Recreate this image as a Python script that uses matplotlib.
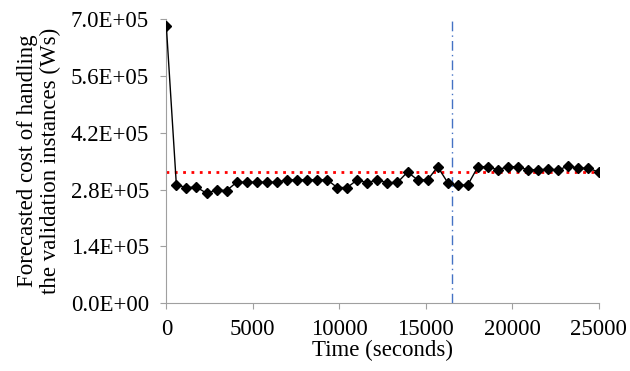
import numpy as np
import matplotlib.pyplot as plt
from matplotlib.ticker import FuncFormatter

# Time stamps of each forecast (seconds)
times = [0, 581, 1163, 1744, 2326, 2907, 3488, 4070, 4651, 5233, 5814,
         6395, 6977, 7558, 8140, 8721, 9302, 9884, 10465, 11047, 11628,
         12209, 12791, 13372, 13953, 14535, 15116, 15698, 16279, 16860,
         17442, 18023, 18605, 19186, 19767, 20349, 20930, 21512, 22093,
         22674, 23256, 23837, 24419, 25000]

# Forecasted cost (Ws)
cost = [683000, 291600, 285000, 286000, 271000, 279000, 277500, 298000,
        298000, 298000, 298000, 298000, 304000, 304000, 304000, 304000,
        304000, 285000, 285000, 304000, 297000, 304000, 297000, 297500,
        323000, 304000, 304000, 336000, 297000, 290000, 291600, 336000,
        336500, 328600, 336500, 336000, 328600, 328600, 330000, 328600,
        337700, 332700, 332700, 323000]

reference_cost = 323000
split_time = 16550

plt.rcParams['font.family'] = ['Liberation Serif', 'DejaVu Serif']

fig = plt.figure(figsize=(6.3, 3.71), dpi=100)
ax = fig.add_axes([0.264, 0.1825, 0.686, 0.7665])

ax.plot([0, 25000], [reference_cost, reference_cost], color='#FF0000',
        linestyle=(0, (1, 2)), linewidth=2, zorder=2)
ax.plot(times, cost, color='black', linewidth=1, marker='D', markersize=5.5,
        zorder=3)
ax.axvline(split_time, color='#4472C4', linestyle=(0, (7, 3, 1, 3)),
           linewidth=1, zorder=1)

ax.set_xlim(0, 25000)
ax.set_ylim(0, 700000)
ax.set_xticks([0, 5000, 10000, 15000, 20000, 25000])
ax.set_yticks(np.arange(0, 700001, 140000))
ax.yaxis.set_major_formatter(FuncFormatter(lambda v, p: f"{v:.1E}"))

for s in ['top', 'right']:
    ax.spines[s].set_visible(False)
for s in ['left', 'bottom']:
    ax.spines[s].set_color('#A0A0A0')
ax.tick_params(colors='#A0A0A0', labelcolor='black', labelsize=16.5,
               length=4.5)
ax.tick_params(axis='y', pad=8)
ax.tick_params(axis='x', pad=7)

ax.set_xlabel('Time (seconds)', fontsize=16.5, labelpad=0)
ax.set_ylabel('Forecasted cost of handling\nthe validation instances (Ws)',
              fontsize=16.5, labelpad=7, linespacing=1.1)

fig.savefig('out.png', dpi=100)
